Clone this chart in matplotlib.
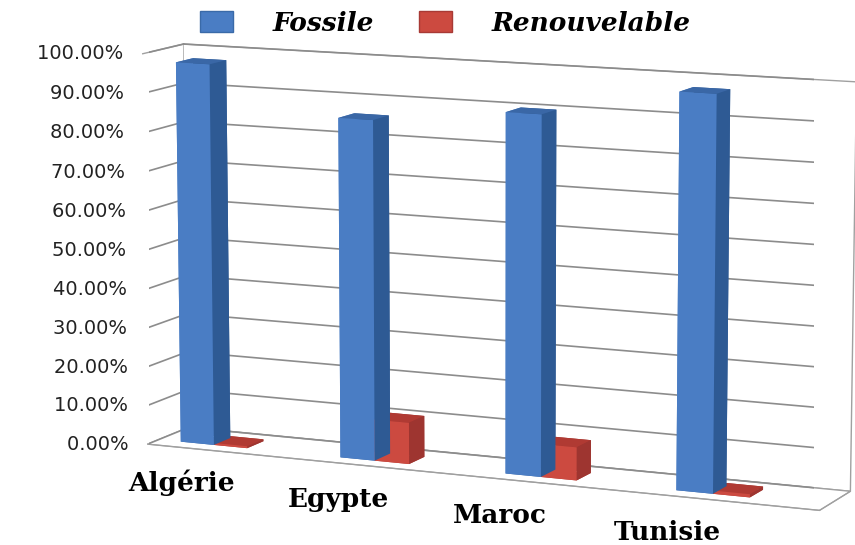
import matplotlib.pyplot as plt
import numpy as np
from matplotlib.patches import Patch
from mpl_toolkits.mplot3d import proj3d

countries = ['Algérie', 'Egypte', 'Maroc', 'Tunisie']
fossile = [0.975, 0.86, 0.90, 0.975]
renouvelable = [0.005, 0.105, 0.083, 0.008]
ticks = np.arange(0, 1.01, 0.1)

# face colours: bottom, top, front, back, left, right
blue_faces = ['#3A67A6', '#3A67A6', '#4A7DC4', '#2E5A94', '#4A7DC4', '#2E5A94']
red_faces = ['#B03A33', '#B03A33', '#CC4A40', '#9E3530', '#CC4A40', '#9E3530']

fig = plt.figure(figsize=(8.55, 5.45), dpi=100)
ax = fig.add_axes([-0.062, -0.12, 1.25, 1.22], projection='3d')
ax.set_proj_type('persp', focal_length=1.2)
ax.view_init(elev=10, azim=-66)
ax.set_box_aspect((8.19, 1.0, 4.52), zoom=1.233)
ax.computed_zorder = False

xmin, xmax = -0.35, 3.65
ymin, ymax = 0, 1.1
x = np.arange(len(countries))
w = 0.21
d = 0.45

# gridlines on back and left walls
for t in ticks:
    ax.plot([xmin, xmax], [ymax, ymax], [t, t], color='#8C8C8C', lw=1.2, zorder=1)
    ax.plot([xmin, xmin], [ymin, ymax], [t, t], color='#8C8C8C', lw=1.2, zorder=1)

xs = np.concatenate([x - w, x])
hs = np.concatenate([fossile, renouvelable])
colors = blue_faces * len(countries) + red_faces * len(countries)
ax.bar3d(xs, np.full(len(xs), 0.3), np.zeros(len(xs)), w, d, hs,
         color=colors, shade=False, edgecolor='none', zorder=2)

ax.set_xlim(xmin, xmax)
ax.set_ylim(ymin, ymax)
ax.set_zlim(0, 1)
ax.set_xticks([])
ax.set_yticks([])
ax.set_zticks([])

for a in (ax.xaxis, ax.yaxis, ax.zaxis):
    a.set_pane_color((1, 1, 1, 1))
    a.pane.set_edgecolor('#A0A0A0')
    a.line.set_color('#A0A0A0')
    a.label.set_visible(False)
ax.zaxis.line.set_visible(False)

# labels placed at projected 3d points
M = ax.get_proj()
for t in ticks:
    px, py, _ = proj3d.proj_transform(xmin, 0, t, M)
    ax.text2D(px, py, f'{t * 100:.2f}%   ', transform=ax.transData, ha='right',
              va='center', fontsize=14, fontfamily='DejaVu Sans', color='#222222')

for i, c in enumerate(countries):
    px, py, _ = proj3d.proj_transform(i - 0.4, ymax, -0.15, M)
    ax.text2D(px, py, c, transform=ax.transData, ha='center', va='center',
              fontsize=19, fontweight='bold', fontfamily='DejaVu Serif')

handles = [Patch(facecolor='#4A7DC4', edgecolor='#3A6AA8'),
           Patch(facecolor='#CC4A40', edgecolor='#A83A35')]
fig.legend(handles, ['Fossile', 'Renouvelable'], loc='upper left', ncol=2,
           bbox_to_anchor=(0.222, 1.0), borderaxespad=0, frameon=False,
           handlelength=1.25, handleheight=0.9, columnspacing=1.7, handletextpad=1.5,
           prop={'family': 'DejaVu Serif', 'style': 'italic', 'weight': 'bold', 'size': 19})

fig.savefig('out.png', dpi=100)
